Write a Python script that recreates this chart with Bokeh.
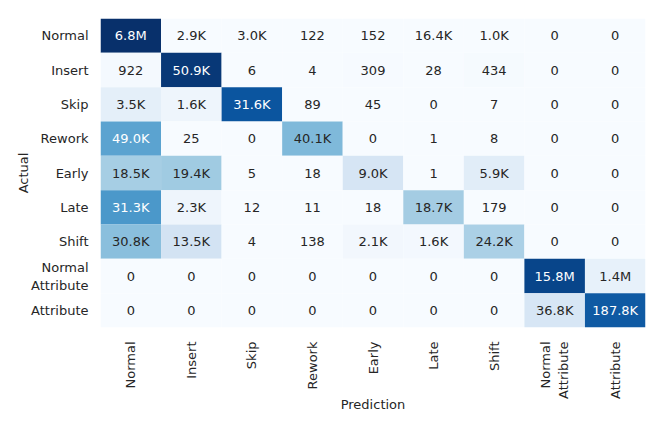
import math
from bokeh.plotting import figure
from bokeh.models import ColumnDataSource, LinearColorMapper, FactorRange
from bokeh.embed import file_html
from bokeh.resources import INLINE

labels = ["Normal", "Insert", "Skip", "Rework", "Early", "Late", "Shift",
          "Normal\nAttribute", "Attribute"]

# rows = actual, columns = prediction (counts)
row_normal = [6_800_000, 2_900, 3_000, 122, 152, 16_400, 1_000, 0, 0]
row_insert = [922, 50_900, 6, 4, 309, 28, 434, 0, 0]
row_skip = [3_500, 1_600, 31_600, 89, 45, 0, 7, 0, 0]
row_rework = [49_000, 25, 0, 40_100, 0, 1, 8, 0, 0]
row_early = [18_500, 19_400, 5, 18, 9_000, 1, 5_900, 0, 0]
row_late = [31_300, 2_300, 12, 11, 18, 18_700, 179, 0, 0]
row_shift = [30_800, 13_500, 4, 138, 2_100, 1_600, 24_200, 0, 0]
row_normal_attr = [0, 0, 0, 0, 0, 0, 0, 15_800_000, 1_400_000]
row_attr = [0, 0, 0, 0, 0, 0, 0, 36_800, 187_800]

rows = [row_normal, row_insert, row_skip, row_rework, row_early, row_late,
        row_shift, row_normal_attr, row_attr]

# Blues colormap (brewer 9, linearly interpolated to 256)
blues9 = ["#f7fbff", "#deebf7", "#c6dbef", "#9ecae1", "#6baed6",
          "#4292c6", "#2171b5", "#08519c", "#08306b"]


def hex2rgb(h):
    return tuple(int(h[i:i + 2], 16) for i in (1, 3, 5))


anchors = [hex2rgb(c) for c in blues9]
palette = []
for k in range(256):
    t = k / 255 * 8
    i = min(int(t), 7)
    f = t - i
    c = [round(anchors[i][j] + (anchors[i + 1][j] - anchors[i][j]) * f) for j in range(3)]
    palette.append("#%02x%02x%02x" % tuple(c))


def fmt(v):
    if v >= 1e6:
        return f"{v / 1e6:.1f}M"
    if v >= 1e3:
        return f"{v / 1e3:.1f}K"
    return str(int(v))


def lum(hexc):
    r, g, b = [x / 255 for x in hex2rgb(hexc)]
    def lin(c):
        return c / 12.92 if c <= 0.04045 else ((c + 0.055) / 1.055) ** 2.4
    return 0.2126 * lin(r) + 0.7152 * lin(g) + 0.0722 * lin(b)


xs, ys, norm, txt, tcol = [], [], [], [], []
for ri, row in enumerate(rows):
    total = sum(row)
    for ci, v in enumerate(row):
        n = v / total if total else 0
        xs.append(labels[ci])
        ys.append(labels[ri])
        norm.append(n)
        txt.append(fmt(v))
        col = palette[min(255, int(n * 255))]
        tcol.append("#262626" if lum(col) > 0.408 else "#ffffff")

src = ColumnDataSource(dict(x=xs, y=ys, n=norm, t=txt, tc=tcol))
mapper = LinearColorMapper(palette=palette, low=0, high=1)

p = figure(width=664, height=427, output_backend="svg", toolbar_location=None,
           x_range=FactorRange(*labels), y_range=FactorRange(*labels[::-1]),
           x_axis_label="Prediction", y_axis_label="Actual")
p.min_border_left = 100
p.min_border_right = 19
p.min_border_top = 18
p.min_border_bottom = 100
p.outline_line_color = None
p.grid.visible = False

p.rect("x", "y", width=1, height=1, source=src,
       fill_color={"field": "n", "transform": mapper}, line_color=None)
p.text("x", "y", text="t", source=src, text_color="tc",
       text_align="center", text_baseline="middle",
       text_font_size="13px", text_font={"value": "DejaVu Sans"})

for ax in (p.xaxis[0], p.yaxis[0]):
    ax.axis_line_color = None
    ax.major_tick_line_color = None
    ax.minor_tick_line_color = None
    ax.major_label_text_font = "DejaVu Sans"
    ax.major_label_text_font_size = "13px"
    ax.major_label_text_color = "#262626"
    ax.axis_label_text_font = "DejaVu Sans"
    ax.axis_label_text_font_size = "13px"
    ax.axis_label_text_font_style = "normal"
    ax.axis_label_text_color = "#262626"

p.xaxis.major_label_orientation = math.pi / 2
p.xaxis.major_label_standoff = 8
p.yaxis.major_label_standoff = 6
p.xaxis.axis_label_standoff = -5
p.yaxis.axis_label_standoff = -3

open("out.html", "w").write(file_html(p, INLINE))
